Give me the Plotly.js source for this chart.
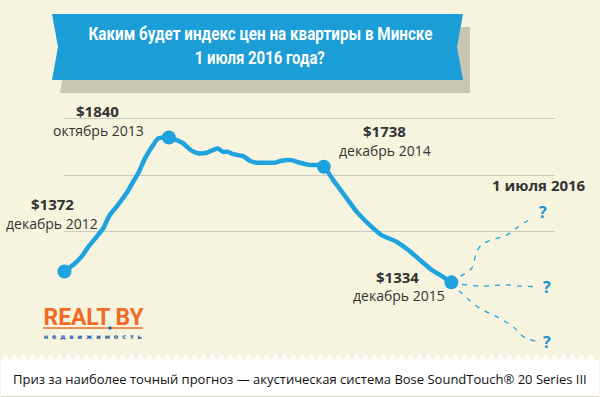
<!DOCTYPE html>
<html>
<head>
<meta charset="utf-8">
<script src="https://cdn.plot.ly/plotly-3.0.1.min.js"></script>
<style>html,body{margin:0;padding:0;background:#f6f4df;}#chart{width:600px;height:397px;}</style>
</head>
<body>
<div id="chart"></div>
<script>
// ---- data ----
const priceDates = ['2012-12-12','2013-01-10','2013-01-29','2013-02-17','2013-03-12','2013-03-31','2013-04-18','2013-05-07','2013-06-04','2013-06-23','2013-07-07','2013-07-26','2013-08-18','2013-09-01','2013-10-01','2013-10-23','2013-11-10','2013-12-04','2013-12-22','2014-01-15','2014-02-02','2014-02-16','2014-03-02','2014-03-16','2014-03-30','2014-04-28','2014-05-16','2014-06-04','2014-07-02','2014-07-26','2014-08-13','2014-09-10','2014-10-04','2014-11-01','2014-11-20','2014-12-10','2015-01-05','2015-02-02','2015-03-12','2015-04-18','2015-05-21','2015-07-02','2015-08-04','2015-09-06','2015-10-09','2015-11-01','2015-12-03'];
const priceValues = [1372,1400,1424,1458,1493,1523,1569,1598,1645,1686,1715,1767,1814,1837,1840,1831,1820,1794,1785,1787,1796,1802,1790,1790,1782,1775,1759,1752,1752,1752,1759,1761,1752,1744,1744,1738,1692,1645,1581,1534,1499,1476,1447,1412,1377,1360,1334];

const keyDates = ['2012-12-12','2013-10-01','2014-12-10','2015-12-03'];
const keyValues = [1372,1840,1738,1334];
const keyPriceLabels = ['$1372','$1840','$1738','$1334'];
const keyMonthLabels = ['декабрь 2012','октябрь 2013','декабрь 2014','декабрь 2015'];

const fcUpDates = ['2015-12-03','2015-12-27','2016-01-29','2016-02-12','2016-03-01','2016-05-06','2016-06-08','2016-07-19'];
const fcUpValues = [1334,1354,1383,1441,1470,1499,1528,1562];
const fcMidDates = ['2015-12-03','2015-12-28','2016-02-21','2016-05-06','2016-06-12','2016-07-30'];
const fcMidValues = [1334,1328,1321,1325,1321,1319];
const fcLowDates = ['2015-12-03','2016-01-01','2016-02-21','2016-04-08','2016-05-24','2016-06-22','2016-07-30'];
const fcLowValues = [1334,1296,1243,1214,1179,1144,1127];

const gridValues = [1510,1709,1908];

const titleLines = ['Каким будет индекс цен на квартиры в Минске','1 июля 2016 года?'];
const forecastLabel = '1 июля 2016';
const footerText = 'Приз за наиболее точный прогноз — акустическая система Bose SoundTouch® 20 Series III';
const logoText = 'REALT BY';
const logoSub = 'недвижимость';

// ---- layout geometry ----
const L = 64, R = 45, T = 100, B = 47, WIDTH = 600, HEIGHT = 397;
const W = WIDTH - L - R, H = HEIGHT - T - B;
const px = x => (x - L) / W;
const py = y => (T + H - y) / H;
const P = (x, y) => px(x).toFixed(5) + ',' + py(y).toFixed(5);

const base = Date.UTC(2012, 11, 1);
const day = 86400000;
const iso = ms => new Date(ms).toISOString().replace('T', ' ').replace('Z', '');
const xRange = [iso(base + 9.69 * day), iso(base + 1387.9 * day)];
const yRange = [1097.6, 1971.1];

const BLUE = '#1fa3de';
const DARK = '#333333';

// ---- traces ----
const dashStyle = {color: BLUE, width: 1.3, dash: '5px,6px', shape: 'spline', smoothing: 0.8};
const traces = [
  {x: fcUpDates, y: fcUpValues, mode: 'lines', line: dashStyle, cliponaxis: false, hoverinfo: 'skip'},
  {x: fcMidDates, y: fcMidValues, mode: 'lines', line: dashStyle, cliponaxis: false, hoverinfo: 'skip'},
  {x: fcLowDates, y: fcLowValues, mode: 'lines', line: dashStyle, cliponaxis: false, hoverinfo: 'skip'},
  {x: priceDates, y: priceValues, mode: 'lines', line: {color: BLUE, width: 4.5, shape: 'spline', smoothing: 0.6}, cliponaxis: false},
  {x: keyDates, y: keyValues, mode: 'markers', marker: {color: BLUE, size: 14, line: {width: 0}}, cliponaxis: false}
];

// ---- annotations ----
const labelShift = [
  {p: [-12, 67], m: [-12, 48]},
  {p: [-71, 27], m: [-70, 7]},
  {p: [61, 36], m: [61.5, 16]},
  {p: [-54, 5], m: [-52, -13.5]}
];
const C = {xanchor: 'center', yanchor: 'middle', showarrow: false};
const annotations = [];
keyDates.forEach((d, i) => {
  annotations.push(Object.assign({x: d, y: keyValues[i], xref: 'x', yref: 'y', text: '<b>' + keyPriceLabels[i] + '</b>',
    xshift: labelShift[i].p[0], yshift: labelShift[i].p[1], font: {family: 'Open Sans', size: 15, color: DARK}}, C));
  annotations.push(Object.assign({x: d, y: keyValues[i], xref: 'x', yref: 'y', text: keyMonthLabels[i],
    xshift: labelShift[i].m[0], yshift: labelShift[i].m[1], font: {family: 'Open Sans', size: 14, color: DARK}}, C));
});
const qShift = [[10.5, 5.5], [10, 0], [10, 0]];
[[fcUpDates, fcUpValues], [fcMidDates, fcMidValues], [fcLowDates, fcLowValues]].forEach((s, i) => {
  const n = s[0].length - 1;
  annotations.push(Object.assign({x: s[0][n], y: s[1][n], xref: 'x', yref: 'y', text: '<b>?</b>',
    xshift: qShift[i][0], yshift: qShift[i][1], font: {family: 'Open Sans', size: 16, color: '#1a90d0'}}, C));
});
annotations.push(Object.assign({x: px(539), y: py(185), xref: 'paper', yref: 'paper', text: '<b>' + forecastLabel + '</b>',
  font: {family: 'Open Sans', size: 15, color: DARK}}, C));
annotations.push(Object.assign({x: px(260), y: py(33), xref: 'paper', yref: 'paper', text: '<b>' + titleLines[0] + '</b>',
  font: {family: 'Roboto', size: 19, color: '#ffffff'}}, C));
annotations.push(Object.assign({x: px(260), y: py(57.5), xref: 'paper', yref: 'paper', text: '<b>' + titleLines[1] + '</b>',
  font: {family: 'Roboto', size: 19, color: '#ffffff'}}, C));
annotations.push(Object.assign({x: px(300), y: py(379), xref: 'paper', yref: 'paper', text: footerText,
  font: {family: 'Open Sans', size: 13, color: '#111111'}}, C));
annotations.push(Object.assign({x: px(93), y: py(317), xref: 'paper', yref: 'paper', text: '<b>' + logoText + '</b>',
  font: {family: 'Roboto', size: 24, color: '#f26a23'}}, C));
annotations.push(Object.assign({x: px(92), y: py(336.5), xref: 'paper', yref: 'paper', text: '<b>' + logoSub + '</b>',
  font: {family: 'DejaVu Sans', size: 6.5, color: '#1d5ea8'}}, C));

// ---- decorative shapes ----
function poly(pts) { return 'M' + pts.map(p => P(p[0], p[1])).join('L') + 'Z'; }
function zigzag(offset) {
  const pts = [[1, 396 + offset]];
  for (let x = 1; x <= 599; x += 9) {
    pts.push([x, 360 + offset]);
    if (x + 4.5 <= 599) pts.push([x + 4.5, 354 + offset]);
  }
  pts.push([599, 360 + offset]);
  pts.push([599, 396 + offset]);
  return poly(pts);
}
const shapes = [
  {type: 'path', xref: 'paper', yref: 'paper', path: poly([[60,27],[470,27],[470,93],[60,93],[66,60]]), fillcolor: '#c9c7b3', line: {width: 0}},
  {type: 'path', xref: 'paper', yref: 'paper', path: poly([[52,14],[463,14],[457,47],[463,80],[52,80],[58,47]]), fillcolor: '#1b9dd8', line: {width: 0}},
  {type: 'path', xref: 'paper', yref: 'paper', path: zigzag(1.5), fillcolor: '#d6d4c4', line: {width: 0}},
  {type: 'path', xref: 'paper', yref: 'paper', path: zigzag(0), fillcolor: '#ffffff', line: {width: 0}},
  {type: 'line', xref: 'paper', yref: 'paper', x0: px(43), x1: px(143), y0: py(328), y1: py(328), line: {color: '#f26a23', width: 1.6}},
  {type: 'circle', xref: 'paper', yref: 'paper', x0: px(108.3), x1: px(111.7), y0: py(326.3), y1: py(329.7), fillcolor: '#1d5ea8', line: {width: 0}}
];

const layout = {
  width: WIDTH, height: HEIGHT, autosize: false,
  margin: {l: L, r: R, t: T, b: B, pad: 0},
  paper_bgcolor: '#f6f4df', plot_bgcolor: 'rgba(0,0,0,0)',
  showlegend: false,
  xaxis: {type: 'date', range: xRange, showgrid: false, zeroline: false, showline: false, showticklabels: false, ticks: ''},
  yaxis: {range: yRange, tickvals: gridValues, showticklabels: false, ticks: '', gridcolor: '#cdcbc1', gridwidth: 1, zeroline: false, showline: false},
  annotations: annotations,
  shapes: shapes
};

// target text widths (px) measured on the picture, for condensed lettering
const fitWidths = {};
fitWidths[titleLines[0]] = [344, 'spacingAndGlyphs'];
fitWidths[titleLines[1]] = [130, 'spacingAndGlyphs'];
fitWidths[logoText] = [100, 'spacingAndGlyphs'];
fitWidths[logoSub] = [98, 'spacing'];

Plotly.newPlot('chart', traces, layout, {displayModeBar: false, staticPlot: true}).then(gd => {
  gd.querySelectorAll('text.annotation-text').forEach(t => {
    const f = fitWidths[t.textContent];
    if (f) {
      t.setAttribute('textLength', f[0]);
      t.setAttribute('lengthAdjust', f[1]);
    }
  });
});
</script>
</body>
</html>
